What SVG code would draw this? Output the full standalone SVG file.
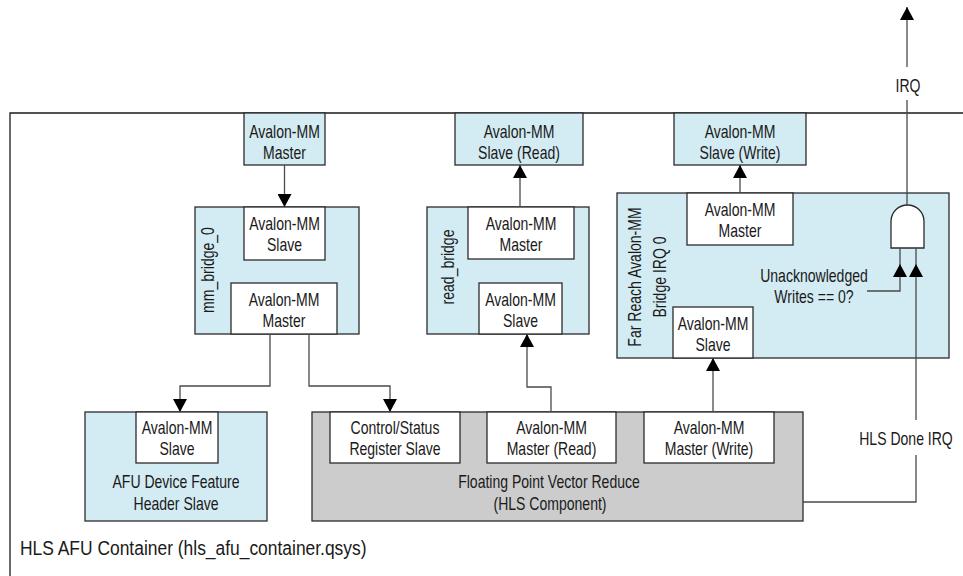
<svg xmlns="http://www.w3.org/2000/svg" width="963" height="576" viewBox="0 0 963 576">
  <style>
    text { font-family: "Liberation Sans", Arial, sans-serif; font-size: 18px; fill: #1a1a1a; text-anchor: middle; }
    .blue { fill: #d3ebf2; stroke: #2b2b2b; stroke-width: 1.3; }
    .gray { fill: #cccccc; stroke: #2b2b2b; stroke-width: 1.3; }
    .port { fill: #ffffff; stroke: #2b2b2b; stroke-width: 1.3; }
    .wire { fill: none; stroke: #4a4a4a; stroke-width: 1.3; }
    .frame { fill: none; stroke: #1a1a1a; stroke-width: 1.3; }
    .label-left { text-anchor: start; font-size: 21px; }
  </style>
  <defs>
    <marker id="arrow" viewBox="0 0 13 14" refX="13" refY="7" markerWidth="13" markerHeight="14" markerUnits="userSpaceOnUse" orient="auto">
      <path d="M0,0 L13,7 L0,14 Z" fill="#000000"/>
    </marker>
  </defs>

  <rect width="963" height="576" fill="#ffffff"/>

  <!-- container outline (open to the right and bottom) -->
  <g id="container">
    <path class="frame" d="M963,113 H10 V576"/>
    <text class="label-left" transform="translate(20,555) scale(0.83,1)">HLS AFU Container (hls_afu_container.qsys)</text>
  </g>

  <!-- external ports on the container edge -->
  <g id="ext-master">
    <rect class="blue" x="244" y="113" width="81" height="52"/>
    <text transform="translate(284.5,138) scale(0.78,1)">Avalon-MM</text>
    <text transform="translate(284.5,159) scale(0.78,1)">Master</text>
  </g>
  <g id="ext-slave-read">
    <rect class="blue" x="455" y="113" width="128" height="52"/>
    <text transform="translate(519,138) scale(0.78,1)">Avalon-MM</text>
    <text transform="translate(519,159) scale(0.78,1)">Slave (Read)</text>
  </g>
  <g id="ext-slave-write">
    <rect class="blue" x="674" y="113" width="132" height="52"/>
    <text transform="translate(740,138) scale(0.78,1)">Avalon-MM</text>
    <text transform="translate(740,159) scale(0.78,1)">Slave (Write)</text>
  </g>

  <!-- mm_bridge_0 -->
  <g id="mm-bridge-0">
    <rect class="blue" x="195" y="207" width="164" height="127"/>
    <text transform="translate(214,270) rotate(-90) scale(0.78,1)">mm_bridge_0</text>
    <rect class="port" x="244" y="207" width="81" height="53"/>
    <text transform="translate(284.5,230) scale(0.78,1)">Avalon-MM</text>
    <text transform="translate(284.5,251) scale(0.78,1)">Slave</text>
    <rect class="port" x="231" y="283" width="106" height="51"/>
    <text transform="translate(284,306) scale(0.78,1)">Avalon-MM</text>
    <text transform="translate(284,327) scale(0.78,1)">Master</text>
  </g>

  <!-- read_bridge -->
  <g id="read-bridge">
    <rect class="blue" x="427" y="207" width="162" height="127"/>
    <text transform="translate(454,267) rotate(-90) scale(0.78,1)">read_bridge</text>
    <rect class="port" x="468" y="207" width="106" height="52"/>
    <text transform="translate(521,230) scale(0.78,1)">Avalon-MM</text>
    <text transform="translate(521,251) scale(0.78,1)">Master</text>
    <rect class="port" x="479" y="283" width="83" height="51"/>
    <text transform="translate(520.5,306) scale(0.78,1)">Avalon-MM</text>
    <text transform="translate(520.5,327) scale(0.78,1)">Slave</text>
  </g>

  <!-- Far Reach Avalon-MM Bridge IRQ 0 -->
  <g id="far-reach-bridge">
    <rect class="blue" x="617" y="193" width="332" height="165"/>
    <text transform="translate(641,277) rotate(-90) scale(0.78,1)">Far Reach Avalon-MM</text>
    <text transform="translate(666,277) rotate(-90) scale(0.78,1)">Bridge IRQ 0</text>
    <rect class="port" x="687" y="193" width="106" height="52"/>
    <text transform="translate(740,216) scale(0.78,1)">Avalon-MM</text>
    <text transform="translate(740,237) scale(0.78,1)">Master</text>
    <rect class="port" x="673" y="307" width="80" height="51"/>
    <text transform="translate(713,330) scale(0.78,1)">Avalon-MM</text>
    <text transform="translate(713,351) scale(0.78,1)">Slave</text>
    <text transform="translate(814,282) scale(0.78,1)">Unacknowledged</text>
    <text transform="translate(814,303) scale(0.78,1)">Writes == 0?</text>
  </g>

  <!-- AND gate combining the write-ack condition with the HLS done interrupt -->
  <g id="and-gate">
    <path d="M891,248 V221.5 A16.5,16.5 0 0 1 924,221.5 V248 Z" fill="#ffffff" stroke="#2b2b2b" stroke-width="1.3"/>
  </g>

  <!-- AFU Device Feature Header -->
  <g id="afu-dfh">
    <rect class="blue" x="85" y="412" width="182" height="109"/>
    <rect class="port" x="136" y="412" width="82" height="51"/>
    <text transform="translate(177,434) scale(0.78,1)">Avalon-MM</text>
    <text transform="translate(177,455) scale(0.78,1)">Slave</text>
    <text transform="translate(176,488) scale(0.78,1)">AFU Device Feature</text>
    <text transform="translate(176,510) scale(0.78,1)">Header Slave</text>
  </g>

  <!-- Floating Point Vector Reduce HLS component -->
  <g id="fpvr">
    <rect class="gray" x="312" y="412" width="491" height="109"/>
    <rect class="port" x="330" y="412" width="130" height="51"/>
    <text transform="translate(395,434) scale(0.78,1)">Control/Status</text>
    <text transform="translate(395,455) scale(0.78,1)">Register Slave</text>
    <rect class="port" x="487" y="412" width="129" height="51"/>
    <text transform="translate(551.5,434) scale(0.78,1)">Avalon-MM</text>
    <text transform="translate(551.5,455) scale(0.78,1)">Master (Read)</text>
    <rect class="port" x="644" y="412" width="130" height="51"/>
    <text transform="translate(709,434) scale(0.78,1)">Avalon-MM</text>
    <text transform="translate(709,455) scale(0.78,1)">Master (Write)</text>
    <text transform="translate(549,488) scale(0.78,1)">Floating Point Vector Reduce</text>
    <text transform="translate(550,510) scale(0.78,1)">(HLS Component)</text>
  </g>

  <!-- connectors -->
  <g id="connectors">
    <path class="wire" d="M284.5,165 V207" marker-end="url(#arrow)"/>
    <path class="wire" d="M270,334 V386 H180 V412" marker-end="url(#arrow)"/>
    <path class="wire" d="M309,334 V386 H390 V412" marker-end="url(#arrow)"/>
    <path class="wire" d="M520,207 V165" marker-end="url(#arrow)"/>
    <path class="wire" d="M551,412 V387 H527 V334" marker-end="url(#arrow)"/>
    <path class="wire" d="M740,193 V165" marker-end="url(#arrow)"/>
    <path class="wire" d="M713,412 V358" marker-end="url(#arrow)"/>
    <!-- gate inputs -->
    <path class="wire" d="M867,291 H900 V264" marker-end="url(#arrow)"/>
    <path class="wire" d="M900,264 V248"/>
    <path class="wire" d="M803,502 H916 V455"/>
    <path class="wire" d="M916,420 V264" marker-end="url(#arrow)"/>
    <path class="wire" d="M916,264 V248"/>
    <text transform="translate(906,445) scale(0.78,1)">HLS Done IRQ</text>
    <!-- gate output -->
    <path class="wire" d="M907,205 V100"/>
    <path class="wire" d="M907,67 V7" marker-end="url(#arrow)"/>
    <text transform="translate(908,92) scale(0.78,1)">IRQ</text>
  </g>
</svg>
